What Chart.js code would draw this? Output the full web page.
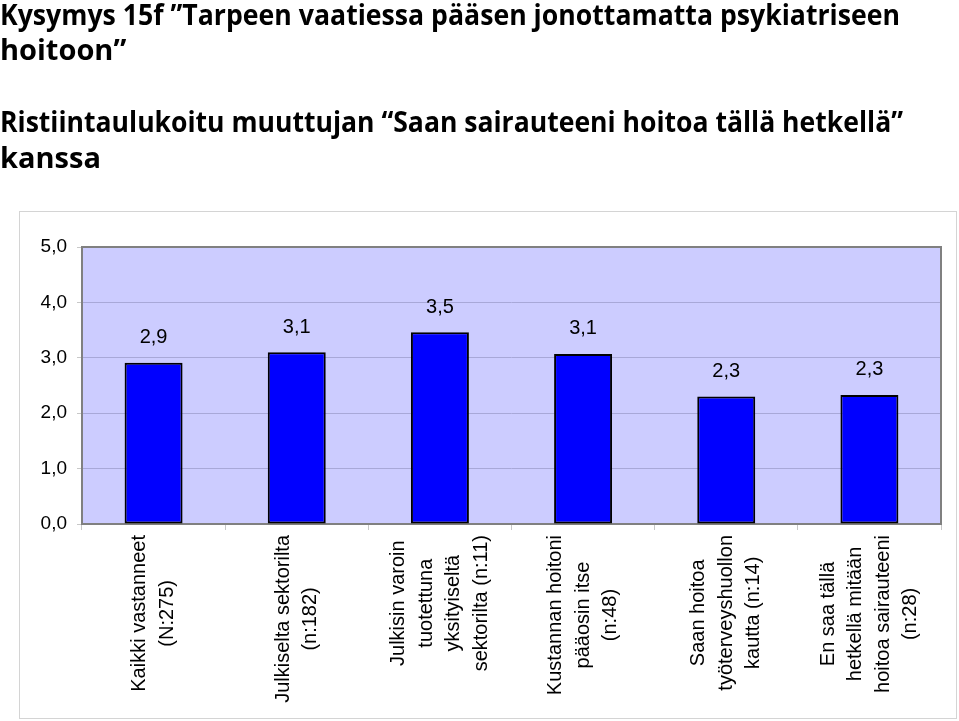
<!DOCTYPE html>
<html><head><meta charset="utf-8">
<script src="https://cdn.jsdelivr.net/npm/chart.js@4/dist/chart.umd.min.js"></script>
<style>
html,body{margin:0;padding:0;background:#fff;width:959px;height:721px;overflow:hidden;}
#wrap{position:relative;width:959px;height:721px;}
canvas{position:absolute;left:0;top:0;}
.t{position:absolute;left:0;font-family:'Open Sans','Noto Sans',sans-serif;font-weight:bold;font-size:29px;line-height:35px;color:#000;white-space:nowrap;transform-origin:0 50%;}
.t span{display:inline-block;}
</style></head><body>
<div id="wrap">
<canvas id="c" width="959" height="721"></canvas>
<div class="t" data-g="a" style="top:-4px"><span id="l1">Kysymys 15f ”Tarpeen vaatiessa pääsen jonottamatta psykiatriseen</span></div>
<div class="t" data-g="a" style="top:31px"><span>hoitoon”</span></div>
<div class="t" data-g="b" style="top:103px"><span id="l3">Ristiintaulukoitu muuttujan “Saan sairauteeni hoitoa tällä hetkellä”</span></div>
<div class="t" data-g="b" style="top:139px"><span>kanssa</span></div>
</div>
<script>
const categories = [
  ['Kaikki vastanneet', '(N:275)'],
  ['Julkiselta sektorilta', '(n:182)'],
  ['Julkisin varoin', 'tuotettuna', 'yksityiseltä', 'sektorilta (n:11)'],
  ['Kustannan hoitoni', 'pääosin itse', '(n:48)'],
  ['Saan hoitoa', 'työterveyshuollon', 'kautta (n:14)'],
  ['En saa tällä', 'hetkellä mitään', 'hoitoa sairauteeni', '(n:28)']
];
const values = [2.91, 3.10, 3.46, 3.07, 2.30, 2.33];
const valueLabels = ['2,9', '3,1', '3,5', '3,1', '2,3', '2,3'];
const yTickLabels = ['0,0', '1,0', '2,0', '3,0', '4,0', '5,0'];

// fit title widths to the reference
function fitTitles() {
  const groups = { a: [document.getElementById('l1'), 900], b: [document.getElementById('l3'), 903] };
  document.querySelectorAll('.t').forEach(d => {
    const g = groups[d.dataset.g];
    const w = g[0].getBoundingClientRect().width;
    if (w > 0) d.style.transform = 'scaleX(' + (g[1] / w) + ')';
  });
}
fitTitles();

const FONT = "'Liberation Sans', Arial, sans-serif";

const decor = {
  id: 'decor',
  beforeDraw(chart) {
    const ctx = chart.ctx, a = chart.chartArea;
    ctx.save();
    ctx.fillStyle = '#ffffff';
    ctx.fillRect(0, 0, chart.width, chart.height);
    ctx.strokeStyle = '#d4d4d4';
    ctx.lineWidth = 1;
    ctx.strokeRect(19.5, 211.5, 937, 507);
    ctx.fillStyle = '#CCCCFF';
    ctx.fillRect(a.left, a.top, a.right - a.left, a.bottom - a.top);
    ctx.restore();
  },
  beforeDatasetsDraw(chart) {
    const ctx = chart.ctx, a = chart.chartArea;
    ctx.save();
    ctx.strokeStyle = '#808080';
    ctx.lineWidth = 2;
    ctx.strokeRect(a.left, a.top, a.right - a.left, a.bottom - a.top);
    ctx.restore();
  },
  afterDatasetsDraw(chart) {
    const ctx = chart.ctx, a = chart.chartArea;
    const meta = chart.getDatasetMeta(0);
    ctx.save();
    ctx.fillStyle = '#000';
    ctx.font = '20px ' + FONT;
    ctx.textAlign = 'center';
    ctx.textBaseline = 'middle';
    meta.data.forEach((bar, i) => {
      ctx.fillText(valueLabels[i], bar.x, bar.y - 25);
    });
    // x category labels, rotated, lines centered
    const xs = chart.scales.x;
    const lh = 27.5;
    categories.forEach((lines, i) => {
      const x = xs.getPixelForValue(i);
      let maxW = 0;
      lines.forEach(l => { maxW = Math.max(maxW, ctx.measureText(l).width); });
      ctx.save();
      ctx.translate(x, a.bottom + 11);
      ctx.rotate(-Math.PI / 2);
      lines.forEach((l, k) => {
        ctx.fillText(l, -maxW / 2, (k - (lines.length - 1) / 2) * lh);
      });
      ctx.restore();
    });
    ctx.restore();
  }
};

new Chart(document.getElementById('c'), {
  type: 'bar',
  data: {
    labels: categories,
    datasets: [{
      data: values,
      backgroundColor: '#0000FF',
      borderColor: '#000000',
      borderWidth: 2,
      borderSkipped: false,
      barPercentage: 0.405,
      categoryPercentage: 1
    }]
  },
  options: {
    responsive: false,
    animation: false,
    layout: { padding: { top: 247, right: 18, left: 0, bottom: 0 } },
    plugins: { legend: { display: false }, tooltip: { enabled: false } },
    scales: {
      x: {
        grid: { display: true, drawOnChartArea: false, drawTicks: true, tickLength: 6, tickColor: '#c8c8c8', offset: true },
        border: { display: false },
        ticks: { display: false },
        afterFit(s) { s.height = 197; }
      },
      y: {
        min: 0, max: 5,
        ticks: {
          stepSize: 1,
          callback: (v, i) => yTickLabels[i],
          font: { family: FONT, size: 19 },
          color: '#000',
          padding: 10
        },
        grid: { color: '#a8a8d8', lineWidth: 1, tickColor: '#c8c8c8', tickLength: 5 },
        border: { display: false },
        afterFit(s) { s.width = 82; }
      }
    }
  },
  plugins: [decor]
});
</script>
</body></html>
